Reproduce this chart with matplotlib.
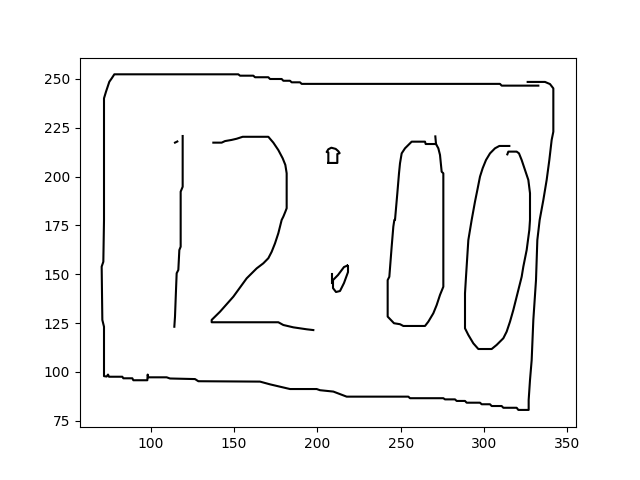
import matplotlib
matplotlib.use("Agg")
import matplotlib.pyplot as plt

# outer frame (one open contour, starts at the top right piece)
frame_x = [326.2, 336.6, 339.6, 341.6, 341.6, 340.6, 339.2, 337.6, 335.6, 333.4, 332.0, 331.2, 329.6, 328.6, 327.6, 326.8, 326.8,
           320.6, 319.6, 311.6, 310.6, 304.6, 303.6, 298.6, 297.6, 289.6, 288.6, 283.6, 282.6, 276.6, 275.6, 255.6, 254.6,
           217.6, 209.6, 201.6, 199.6, 183.6, 177.6, 171.6, 165.6, 128.6, 126.6, 111.6, 109.6, 98.6, 98.2, 98.0, 89.6, 89.0,
           83.6, 83.0, 75.0, 74.4, 73.6, 72.0,
           72.0, 72.0, 71.0, 70.6, 71.6, 72.0, 72.0, 73.2, 75.2, 76.6, 78.2,
           152.6, 153.6, 161.6, 162.6, 170.6, 171.6, 178.6, 179.6, 183.6, 184.6, 189.6, 190.6, 309.6, 310.6, 332.6]
frame_y = [248.5, 248.5, 247.4, 245.2, 223.0, 218.8, 208.5, 198.3, 188.0, 177.8, 167.5, 147.0, 126.6, 106.0, 95.8, 85.6, 80.5,
           80.5, 81.6, 81.6, 82.5, 82.5, 83.4, 83.4, 84.2, 84.2, 85.1, 85.1, 85.9, 85.9, 86.5, 86.5, 87.3,
           87.3, 89.9, 90.6, 91.2, 91.2, 92.4, 93.6, 95.0, 95.2, 96.3, 96.6, 97.2, 97.2, 98.6, 95.7, 95.7, 96.7,
           96.7, 97.5, 97.5, 98.6, 97.6, 97.8,
           100.1, 123.1, 126.6, 153.9, 156.4, 177.8, 240.1, 243.5, 248.6, 250.3, 252.4,
           252.4, 251.7, 251.7, 250.9, 250.9, 250.0, 250.0, 249.1, 249.1, 248.3, 248.3, 247.5, 247.5, 246.6, 246.6]

# digit "1"
one_dot_x = [114.6, 116.0]
one_dot_y = [217.4, 218.0]
one_x = [119.2, 119.2, 118.0, 118.0, 118.0, 117.2, 116.6, 115.6, 115.2, 114.6, 114.2]
one_y = [220.8, 194.8, 192.3, 177.8, 164.1, 162.4, 152.2, 150.5, 141.9, 128.3, 123.1]

# digit "2"
two_x = [137.6, 142.6, 144.6, 148.6, 151.6, 155.2, 170.6, 173.6, 176.6, 179.2, 180.8, 181.6, 181.6, 180.8, 179.6,
         178.6, 176.6, 174.6, 172.6, 170.6, 167.6, 163.6, 157.6, 149.6, 141.6, 136.6, 136.6,
         176.6, 179.6, 185.6, 193.6, 197.6]
two_y = [217.4, 217.4, 218.2, 218.8, 219.4, 220.4, 220.4, 217.4, 213.6, 209.4, 206.0, 201.7, 183.8, 182.0, 179.5,
         177.8, 171.0, 165.8, 161.5, 158.2, 155.6, 153.0, 147.9, 138.5, 130.8, 126.6, 125.4,
         125.4, 124.0, 122.8, 121.8, 121.4]

# colon
colon_top_x = [206.6, 212.0, 212.0, 213.4, 212.6, 211.0, 208.4, 206.6, 205.6, 206.6, 206.6]
colon_top_y = [207.0, 207.0, 211.6, 212.0, 213.0, 214.2, 214.8, 214.0, 212.6, 212.4, 207.0]
colon_bot_x = [218.0, 216.0, 212.4, 209.4, 209.4, 211.2, 213.6, 216.0, 218.4, 218.4, 218.0]
colon_bot_y = [154.4, 153.7, 149.6, 147.0, 142.9, 140.9, 141.4, 145.5, 151.1, 154.1, 154.4]
colon_spur_x = [209.0, 209.0]
colon_spur_y = [149.9, 145.3]

# first "0"
zero1_x = [270.8, 271.2, 272.6, 273.6, 274.6, 275.6, 275.6, 275.6, 273.6, 271.6, 269.6, 266.6, 264.6, 251.6, 249.6,
           246.0, 242.2, 242.2, 243.2, 244.6, 245.6, 246.2, 246.6, 248.0, 249.0, 249.6, 250.6, 252.6, 256.6, 264.6,
           265.0, 271.2]
zero1_y = [220.6, 216.7, 214.5, 211.1, 202.5, 201.7, 177.8, 143.6, 139.4, 134.2, 130.0, 125.7, 123.5, 123.5, 124.4,
           124.9, 128.3, 147.0, 148.7, 164.1, 174.4, 177.8, 177.8, 191.5, 201.7, 206.8, 211.9, 214.5, 217.9, 217.9,
           216.7, 216.7]

# second "0" (open at the top)
zero2_x = [315.2, 309.2, 306.6, 303.6, 301.2, 299.2, 297.6, 296.0, 294.6, 292.6, 290.6, 289.2, 288.6, 288.6, 290.6,
           293.6, 296.6, 304.6, 307.6, 311.6, 313.6, 315.6, 317.6, 319.6, 322.6, 323.6, 325.6, 327.2, 327.6, 327.6,
           326.6, 324.6, 322.6, 321.0, 319.6, 314.6, 314.0]
zero2_y = [215.7, 215.7, 214.5, 211.9, 208.5, 204.3, 200.0, 193.1, 187.2, 177.8, 167.5, 148.7, 140.2, 122.3, 118.9,
           114.6, 111.7, 111.7, 113.8, 117.2, 120.6, 125.7, 131.7, 138.5, 148.7, 153.9, 162.4, 172.7, 177.8, 191.5,
           198.3, 203.4, 208.5, 211.9, 212.8, 212.8, 211.4]

fig, ax = plt.subplots(figsize=(6.4, 4.8), dpi=100)

strokes = [(frame_x, frame_y), (one_dot_x, one_dot_y), (one_x, one_y), (two_x, two_y),
           (colon_top_x, colon_top_y), (colon_bot_x, colon_bot_y), (colon_spur_x, colon_spur_y),
           (zero1_x, zero1_y), (zero2_x, zero2_y)]
for xs, ys in strokes:
    ax.plot(xs, ys, color="black", linewidth=1.5)

ax.set_xlim(57.6, 355.2)
ax.set_ylim(71.65, 260.96)
ax.set_xticks([100, 150, 200, 250, 300, 350])
ax.set_yticks([75, 100, 125, 150, 175, 200, 225, 250])

fig.savefig("out.png", dpi=100)
